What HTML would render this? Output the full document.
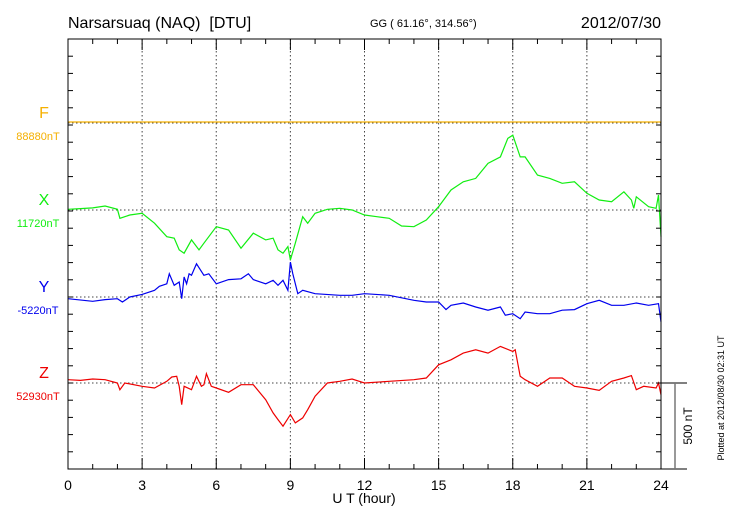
<!DOCTYPE html>
<html><head><meta charset="utf-8"><style>
body{margin:0;background:#fff;}
svg{display:block;font-family:"Liberation Sans",sans-serif;}
text{white-space:pre;}
</style></head><body>
<svg id="chart" width="730" height="520" viewBox="0 0 730 520" xmlns="http://www.w3.org/2000/svg">
<text x="68" y="28" font-size="16">Narsarsuaq (NAQ)  [DTU]</text>
<text x="370" y="27" font-size="11">GG ( 61.16°, 314.56°)</text>
<text x="661" y="28" font-size="16" text-anchor="end">2012/07/30</text>
<g id="grid"></g>
<g id="series"></g>
<rect x="68" y="39" width="593" height="430" fill="none" stroke="#000" stroke-width="1"/>
<g id="ticks"></g>
<text x="364" y="503" font-size="14" text-anchor="middle">U T (hour)</text>
<g>
<line x1="661" y1="383" x2="687" y2="383" stroke="#000"/>
<line x1="661" y1="469" x2="687" y2="469" stroke="#000"/>
<line x1="675" y1="383" x2="675" y2="469" stroke="#777" stroke-width="1.5"/>
</g>
<text transform="translate(692,426) rotate(-90)" font-size="12" text-anchor="middle">500 nT</text>
<text transform="translate(724,398) rotate(-90)" font-size="9" text-anchor="middle">Plotted at 2012/08/30 02:31 UT</text>
</svg>
<script>
const xTicks=[0,3,6,9,12,15,18,21,24];
const xH=[0,0.5,1,1.5,2,2.1,2.5,3,3.5,4,4.3,4.5,4.7,5,5.3,5.5,6,6.5,7,7.5,8,8.3,8.5,8.7,8.9,9,9.2,9.5,9.7,10,10.5,11,11.5,12,12.5,13,13.5,14,14.5,15,15.5,16,16.5,17,17.5,17.8,18,18.3,18.5,19,19.5,20,20.5,21,21.5,22,22.5,22.8,22.9,23,23.5,23.8,23.9,24];
const xV=[4,8,12,23,4,-48,-29,-19,-77,-155,-164,-232,-251,-174,-232,-193,-97,-116,-222,-135,-174,-164,-232,-251,-213,-290,-193,-39,-77,-19,4,10,0,-29,-39,-48,-93,-97,-58,19,116,164,184,271,309,416,435,309,309,203,184,155,164,97,58,48,106,58,10,77,19,10,87,-155];
const yH=[0,1,1.5,2,2.2,2.5,3,3.5,3.7,4,4.1,4.3,4.5,4.6,4.7,4.8,4.9,5,5.2,5.5,5.7,6,6.5,7,7.3,7.5,8,8.3,8.5,8.7,8.9,9,9.1,9.3,9.5,10,11,11.5,12,13,14,14.5,15,15.3,15.5,16,16.5,17,17.5,17.7,18,18.3,18.5,19,19.5,20,20.5,21,21.5,22,22.5,23,23.5,23.9,24];
const yV=[-10,-25,-15,-10,-29,0,15,39,62,77,135,68,87,-10,116,77,135,126,193,126,135,77,101,106,135,101,77,97,68,97,39,203,135,19,39,19,10,10,19,10,-19,-29,-29,-73,-48,-35,-58,-77,-58,-106,-97,-126,-87,-97,-97,-77,-73,-39,-19,-48,-48,-35,-48,-39,-145];
const zH=[0,0.5,1,1.5,2,2.1,2.3,3,3.5,4,4.2,4.4,4.5,4.6,4.7,5,5.2,5.4,5.5,5.6,5.8,6,6.5,7,7.5,8,8.3,8.5,8.7,9,9.2,9.5,9.7,10,10.5,11,11.5,12,13,14,14.5,15,15.5,16,16.5,17,17.5,18,18.1,18.3,18.5,19,19.5,20,20.5,21,21.5,22,22.5,22.8,23,23.3,23.8,23.9,24];
const zV=[19,15,23,19,0,-39,0,-19,-29,10,35,39,-19,-126,-19,-39,39,-19,-10,54,-19,-29,-54,-10,-10,-97,-174,-213,-251,-184,-232,-203,-155,-77,0,10,23,0,10,19,29,106,135,174,193,174,213,184,193,39,19,-19,29,29,-19,-29,-43,10,29,43,-39,-19,-29,0,-68];
const fH=[0,24];
const fV=[0,0];
const NS="http://www.w3.org/2000/svg";
const X0=68,X1=661,PX_PER_NT=17.2/100;
const xs=h=>X0+(X1-X0)*h/24;
const ys=(base,v)=>base-v*PX_PER_NT;
function mk(tag,attrs,parent){const e=document.createElementNS(NS,tag);for(const k in attrs)e.setAttribute(k,attrs[k]);parent.appendChild(e);return e;}
const grid=document.getElementById('grid'),ser=document.getElementById('series'),tk=document.getElementById('ticks'),svg=document.getElementById('chart');
for(const h of xTicks.slice(1,-1)){
  const l=mk('line',{x1:xs(h),x2:xs(h),y1:39,y2:469,stroke:'#444','stroke-dasharray':'1.5,2.5'},grid);
  
  
}
const bases=[123,210,297,383];
for(const b of bases){
  const l=mk('line',{x1:X0,x2:X1,y1:b,y2:b,stroke:'#444','stroke-dasharray':'1.5,2.5'},grid);
  
  
}
for(let y=469;y>39;y-=17.2){
  const a=mk('line',{x1:X0,x2:X0+5,y1:y,y2:y,stroke:'#000'},tk);
  
  
  const b=mk('line',{x1:X1-5,x2:X1,y1:y,y2:y,stroke:'#000'},tk);
  
  
}
for(let h=0;h<=24;h++){
  const major=h%3===0;
  const a=mk('line',{x1:xs(h),x2:xs(h),y1:469,y2:major?458:464,stroke:'#000'},tk);
  
  
  const b=mk('line',{x1:xs(h),x2:xs(h),y1:39,y2:major?50:44,stroke:'#000'},tk);
  
  
}
for(const h of xTicks){
  const t=mk('text',{x:xs(h),y:490,'font-size':14,'text-anchor':'middle'},svg);
  t.textContent=String(h);
  
  
}
const series=[
 {n:'f',H:fH,V:fV,b:122,c:'#f5b000',lab:'F',val:'88880nT'},
 {n:'x',H:xH,V:xV,b:210,c:'#11ee11',lab:'X',val:'11720nT'},
 {n:'y',H:yH,V:yV,b:297,c:'#0000ee',lab:'Y',val:'-5220nT'},
 {n:'z',H:zH,V:zV,b:383,c:'#ee0000',lab:'Z',val:'52930nT'}];
for(const s of series){
  const d=s.H.map((h,i)=>(i?'L':'M')+xs(h).toFixed(1)+','+ys(s.b,s.V[i]).toFixed(1)).join('');
  const p=mk('path',{d:d,fill:'none',stroke:s.c,'stroke-width':1.2},ser);
  
  
  const bl=s.n==='f'?123:s.b;
  const t=mk('text',{x:44,y:bl-5,'font-size':16,fill:s.c,'text-anchor':'middle'},svg);
  t.textContent=s.lab;
  
  
  const v=mk('text',{x:38,y:bl+17,'font-size':11,fill:s.c,'text-anchor':'middle'},svg);
  v.textContent=s.val;
  
  
}
</script>
</body></html>
